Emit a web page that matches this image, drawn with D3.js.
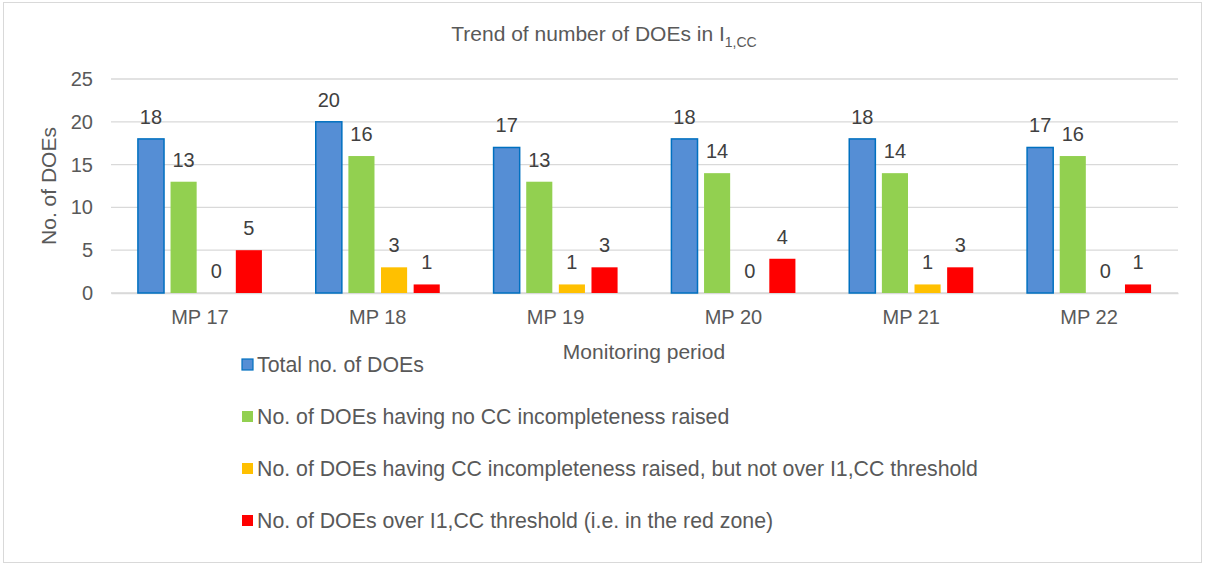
<!DOCTYPE html>
<html>
<head>
<meta charset="utf-8">
<script src="https://cdn.jsdelivr.net/npm/d3@7"></script>
<style>
  body { margin: 0; background: #fff; }
  text { font-family: Arial, "Liberation Sans", sans-serif; }
</style>
</head>
<body>
<div id="chart"></div>
<script>
// datos
const periods = ["MP 17", "MP 18", "MP 19", "MP 20", "MP 21", "MP 22"];
const seriesNames = [
  "Total no. of DOEs",
  "No. of DOEs having no CC incompleteness raised",
  "No. of DOEs having CC incompleteness raised, but not over I1,CC threshold",
  "No. of DOEs over I1,CC threshold (i.e. in the red zone)"
];
const totalDOEs = [18, 20, 17, 18, 18, 17];
const noIncompleteness = [13, 16, 13, 14, 14, 16];
const belowThreshold = [0, 3, 1, 0, 1, 0];
const overThreshold = [5, 1, 3, 4, 3, 1];
const yTicks = [0, 5, 10, 15, 20, 25];

const colors = ["#558ED5", "#92D050", "#FFC000", "#FF0000"];
const allSeries = [totalDOEs, noIncompleteness, belowThreshold, overThreshold];

const width = 1205, height = 566;
const margin = { left: 111, right: 27, top: 79, bottom: 273 };
const textColor = "#595959";

const svg = d3.select("#chart").append("svg")
  .attr("width", width).attr("height", height);

// borde del gráfico
svg.append("rect")
  .attr("x", 3.5).attr("y", 2.5)
  .attr("width", width - 7).attr("height", height - 6)
  .attr("fill", "#fff").attr("stroke", "#d9d9d9");

const x0 = d3.scaleBand()
  .domain(periods)
  .range([margin.left, width - margin.right]);

const x1 = d3.scaleBand()
  .domain(d3.range(seriesNames.length))
  .range([0, 124])
  .paddingInner(0.2);

const y = d3.scaleLinear()
  .domain([0, 25])
  .range([height - margin.bottom, margin.top]);

// líneas de cuadrícula
svg.append("g")
  .selectAll("line")
  .data(yTicks)
  .join("line")
  .attr("x1", margin.left).attr("x2", width - margin.right)
  .attr("y1", d => y(d)).attr("y2", d => y(d))
  .attr("stroke", "#d9d9d9").attr("stroke-width", 1.3);

// eje Y
const yAxis = svg.append("g")
  .attr("transform", `translate(${margin.left},0)`)
  .call(d3.axisLeft(y).tickValues(yTicks).tickSize(0).tickPadding(18));
yAxis.select(".domain").remove();
yAxis.selectAll("text")
  .attr("fill", textColor).attr("font-size", 20)
  .style("font-family", "Arial, 'Liberation Sans', sans-serif");

// eje X
const xAxis = svg.append("g")
  .attr("transform", `translate(0,${y(0)})`)
  .call(d3.axisBottom(x0).tickSize(0).tickPadding(17));
xAxis.select(".domain").attr("stroke", "#d9d9d9").attr("stroke-width", 1.3);
xAxis.selectAll("text")
  .attr("fill", textColor).attr("font-size", 20)
  .style("font-family", "Arial, 'Liberation Sans', sans-serif");

// barras
const groupOffset = (x0.bandwidth() - x1.range()[1]) / 2;
const groups = svg.append("g")
  .selectAll("g")
  .data(periods)
  .join("g")
  .attr("transform", d => `translate(${x0(d) + groupOffset},0)`);

groups.each(function(p, pi) {
  const g = d3.select(this);
  allSeries.forEach((s, si) => {
    const v = s[pi];
    g.append("rect")
      .attr("x", x1(si))
      .attr("y", y(v))
      .attr("width", x1.bandwidth())
      .attr("height", y(0) - y(v))
      .attr("fill", colors[si])
      .attr("stroke", si === 0 ? "#0070C0" : "none")
      .attr("stroke-width", si === 0 ? 1.5 : 0);
    g.append("text")
      .attr("x", x1(si) + x1.bandwidth() / 2)
      .attr("y", y(v) - 15)
      .attr("text-anchor", "middle")
      .attr("font-size", 20)
      .attr("fill", "#404040")
      .text(v);
  });
});

// título
const title = svg.append("text")
  .attr("x", 604).attr("y", 41)
  .attr("text-anchor", "middle")
  .attr("font-size", 21)
  .attr("fill", textColor);
title.append("tspan").text("Trend of number of DOEs in I");
title.append("tspan").attr("dy", 6).attr("font-size", 14).text("1,CC");

// títulos de ejes
svg.append("text")
  .attr("transform", `translate(56,${(y(0) + y(25)) / 2}) rotate(-90)`)
  .attr("text-anchor", "middle")
  .attr("font-size", 21)
  .attr("fill", textColor)
  .text("No. of DOEs");

svg.append("text")
  .attr("x", 644).attr("y", 359)
  .attr("text-anchor", "middle")
  .attr("font-size", 21)
  .attr("fill", textColor)
  .text("Monitoring period");

// leyenda
const legend = svg.append("g")
  .selectAll("g")
  .data(seriesNames)
  .join("g")
  .attr("transform", (d, i) => `translate(242,${365 + i * 52})`);

legend.append("rect")
  .attr("x", 0).attr("y", -6)
  .attr("width", 11).attr("height", 11)
  .attr("fill", (d, i) => colors[i])
  .attr("stroke", (d, i) => i === 0 ? "#0070C0" : "none")
  .attr("stroke-width", 1.2);

legend.append("text")
  .attr("x", 15).attr("y", 7)
  .attr("font-size", 21.3)
  .attr("fill", textColor)
  .text(d => d);
</script>
</body>
</html>
